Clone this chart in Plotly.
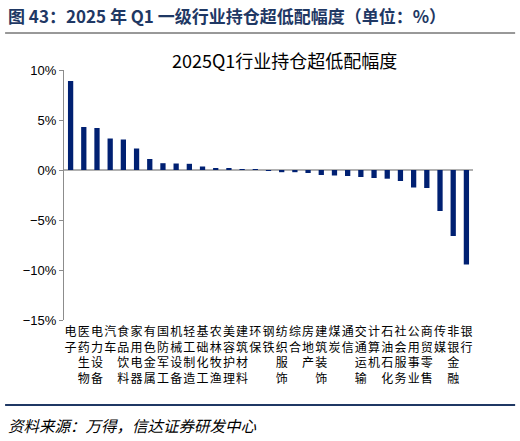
import plotly.graph_objects as go

# industries, sorted by over/under-weight
industries = ["电子", "医药生物", "电力设备", "汽车", "食品饮料", "家用电器", "有色金属",
              "国防军工", "机械设备", "轻工制造", "基础化工", "农林牧渔", "美容护理",
              "建筑材料", "环保", "钢铁", "纺织服饰", "综合", "房地产", "建筑装饰",
              "煤炭", "通信", "交通运输", "计算机", "石油石化", "社会服务", "公用事业",
              "商贸零售", "传媒", "非银金融", "银行"]
weights = [8.9, 4.3, 4.2, 3.15, 3.05, 2.15, 1.1, 0.68, 0.65, 0.62, 0.35, 0.2, 0.17,
           0.03, 0.02, -0.02, -0.22, -0.22, -0.3, -0.5, -0.55, -0.6, -0.7, -0.8,
           -0.87, -1.1, -1.75, -1.8, -4.1, -6.6, -9.45]
ytick_vals = [10, 5, 0, -5, -10, -15]
ytick_text = ["10%", "5%", "0%", "−5%", "−10%", "−15%"]

cjk = "Noto Sans CJK SC"
navy = "#002072"
title_blue = "#1f3864"

# vertical labels: one character per line
labels = ["<br>".join(list(s)) for s in industries]

fig = go.Figure(go.Bar(
    x=labels,
    y=weights,
    marker=dict(color=navy, line=dict(width=0)),
    width=0.4,
    showlegend=False,
))

fig.update_layout(
    width=520, height=441,
    margin=dict(l=64, r=47, t=70, b=121),
    paper_bgcolor="white",
    plot_bgcolor="white",
    font=dict(family=cjk, color="black"),
)

fig.update_yaxes(
    range=[-15, 10],
    tickvals=ytick_vals,
    ticktext=ytick_text,
    tickfont=dict(family="Liberation Sans, Arial", size=13, color="black"),
    showgrid=False,
    showline=True, linecolor="#8c8c8c", linewidth=1,
    ticks="outside", ticklen=4, tickcolor="#8c8c8c",
    zeroline=True, zerolinecolor="#b0b0b0", zerolinewidth=1.5,
)
fig.update_xaxes(
    range=[-0.5, 30.5],
    tickmode="array", tickvals=labels, ticktext=labels,
    showgrid=False, showline=False, ticks="",
    tickangle=0, ticklabelstandoff=3,
    tickfont=dict(family=cjk, size=12, color="black"),
)

# titles, separator lines and source note
fig.add_annotation(xref="paper", yref="paper", x=-0.142, y=1.22,
                   xanchor="left", yanchor="middle", showarrow=False,
                   text="<b>图 43：2025 年 Q1 一级行业持仓超低配幅度（单位：%）</b>",
                   font=dict(family=cjk, size=17, color=title_blue))
fig.add_annotation(xref="paper", yref="paper", x=0.54, y=1.04,
                   xanchor="center", yanchor="middle", showarrow=False,
                   text="2025Q1行业持仓超低配幅度",
                   font=dict(family=cjk, size=18, color="black"))
fig.add_annotation(xref="paper", yref="paper", x=-0.142, y=-0.42,
                   xanchor="left", yanchor="middle", showarrow=False,
                   text="<i>资料来源：万得，信达证券研发中心</i>",
                   font=dict(family=cjk, size=15.5, color="black"))
fig.add_shape(type="line", xref="paper", yref="paper",
              x0=-0.144, x1=1.103, y0=1.148, y1=1.148,
              line=dict(color="#333333", width=1))
fig.add_shape(type="line", xref="paper", yref="paper",
              x0=-0.144, x1=1.103, y0=-0.34, y1=-0.34,
              line=dict(color=title_blue, width=2))

# drop the default page margin so the figure sits at the window corner
fig.write_html("out.html", config={"displayModeBar": False},
               post_script="document.body.style.margin='0';")
